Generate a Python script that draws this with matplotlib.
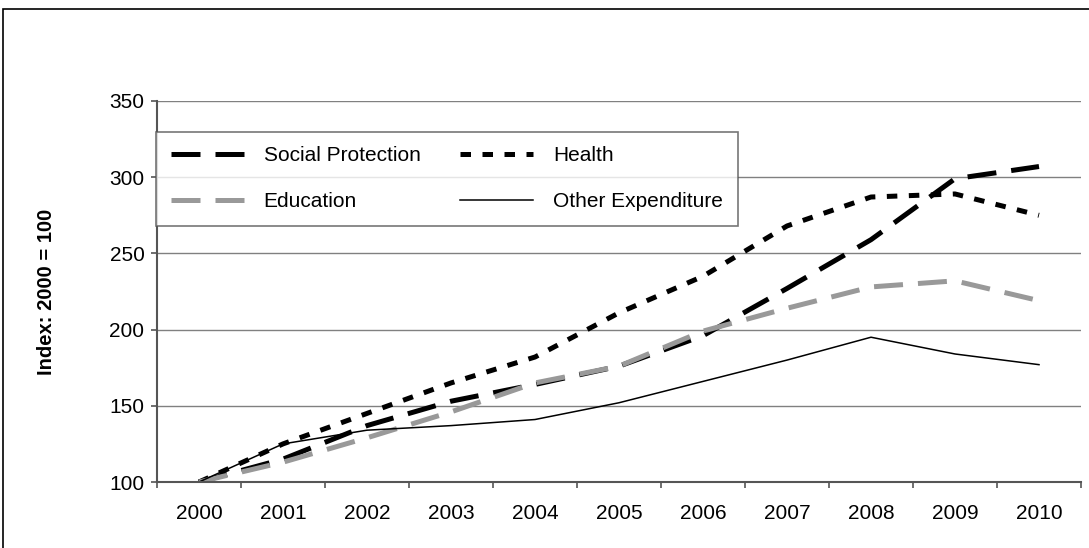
import matplotlib
matplotlib.use("Agg")
import matplotlib.pyplot as plt
from matplotlib.patches import Rectangle

plt.rcParams['font.family'] = ['Liberation Sans', 'DejaVu Sans']

# Veriler
years = ['2000', '2001', '2002', '2003', '2004', '2005', '2006', '2007', '2008', '2009', '2010']
social_protection = [100, 115, 137, 153, 164, 176, 196, 227, 259, 299, 307]
health = [100, 125, 145, 165, 182, 211, 235, 268, 287, 289, 275]
education = [100, 113, 129, 146, 165, 176, 199, 214, 228, 232, 219]
other_exp = [100, 125, 134, 137, 141, 152, 166, 180, 195, 184, 177]

fig = plt.figure(figsize=(10.89, 5.48), dpi=100)
ax = fig.add_axes([157 / 1089, 1 - 482 / 548, 924 / 1089, 381 / 548])

x = list(range(len(years)))
sp, = ax.plot(x, social_protection, color='black', lw=3.6, dashes=(5.8, 3), label='Social Protection')
he, = ax.plot(x, health, color='black', lw=3.6, dashes=(2.1, 2.3), label='Health')
ed, = ax.plot(x, education, color='#999999', lw=3.6, dashes=(5.8, 3), label='Education')
ot, = ax.plot(x, other_exp, color='black', lw=1.1, label='Other Expenditure')

ax.set_xlim(-0.5, len(years) - 0.5)
ax.set_ylim(100, 350)
ax.set_yticks([100, 150, 200, 250, 300, 350])
ax.set_xticks(x)
ax.set_xticklabels(years)
ax.set_xticks([i - 0.5 for i in range(len(years) + 1)], minor=True)
ax.tick_params(axis='x', which='major', length=0, pad=16, labelsize=15)
ax.tick_params(axis='x', which='minor', length=4, width=1.2, color='#555555', direction='out')
ax.tick_params(axis='y', length=4, width=1.2, color='#555555', labelsize=15, pad=5)

ax.grid(axis='y', color='#808080', lw=1)
ax.set_axisbelow(True)
for s in ['top', 'right']:
    ax.spines[s].set_visible(False)
for s in ['left', 'bottom']:
    ax.spines[s].set_color('#555555')
    ax.spines[s].set_linewidth(1.5)

# Y ekseni başlığı
fig.text(47 / 1089, 1 - 292 / 548, 'Index: 2000 = 100', rotation=90, ha='center', va='center',
         fontsize=14.5, fontweight='bold')

# Lejant: satır sırası SP, Health / Education, Other
leg = ax.legend([sp, ed, he, ot], ['Social Protection', 'Education', 'Health', 'Other Expenditure'],
                ncol=2, loc='upper left', bbox_to_anchor=(-0.001, 0.9195), fontsize=15,
                frameon=True, fancybox=False, handlelength=3.5, handletextpad=0.96,
                columnspacing=1.92, labelspacing=1.3, borderpad=0.7, borderaxespad=0)
leg.get_frame().set_edgecolor('#555555')
leg.get_frame().set_linewidth(1.2)

# Dış çerçeve
fig.patches.append(Rectangle((3 / 1089, -0.1), 1.2, 1 - 9 / 548 + 0.1, transform=fig.transFigure,
                             fill=False, edgecolor='black', lw=1.2))

fig.savefig('out.png', dpi=100)
